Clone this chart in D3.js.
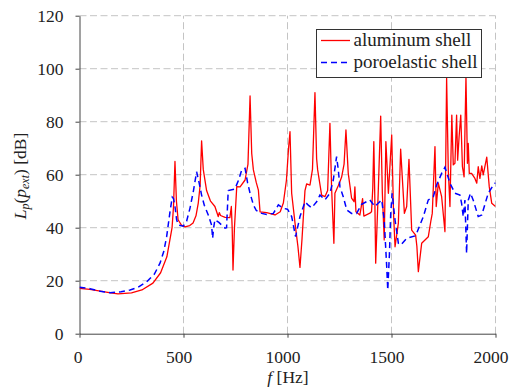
<!DOCTYPE html>
<html>
<head>
<meta charset="utf-8">
<script src="https://cdn.jsdelivr.net/npm/d3@7"></script>
<style>
  body { margin: 0; background: #fff; }
  svg text { font-family: "Liberation Serif", "DejaVu Serif", serif; fill: #222; }
</style>
</head>
<body>
<svg id="chart"></svg>
<script>
var width = 509,
    height = 391;

// aluminum shell (red)
var alu_f = [0, 50, 100, 150, 185, 250, 300, 353, 390, 420, 445, 452, 459, 466, 474, 490, 507, 530, 546, 560, 571, 580, 587, 595, 611, 630, 651, 667, 672, 678, 700, 723, 730, 734, 738, 745, 756, 772, 796, 810, 820, 828, 836, 850, 860, 868, 900, 940, 965, 980, 995, 1005, 1012, 1020, 1036, 1050, 1060, 1070, 1084, 1092, 1108, 1120, 1132, 1140, 1145, 1164, 1180, 1193, 1204, 1212, 1223, 1228, 1245, 1260, 1272, 1281, 1292, 1308, 1320, 1324, 1329, 1348, 1361, 1367, 1396, 1404, 1410, 1415, 1420, 1424, 1436, 1448, 1456, 1465, 1473, 1485, 1501, 1510, 1517, 1533, 1544, 1562, 1573, 1584, 1597, 1616, 1622, 1629, 1645, 1677, 1690, 1696, 1709, 1715, 1725, 1741, 1757, 1765, 1773, 1781, 1790, 1797, 1805, 1813, 1818, 1825, 1833, 1841, 1849, 1858, 1865, 1869, 1874, 1885, 1901, 1910, 1917, 1925, 1934, 1941, 1958, 1970, 1982, 2000];
var alu_L = [17.1, 16.7, 16.1, 15.4, 15.0, 15.4, 16.5, 19.1, 23, 29, 40, 48, 65, 50, 43, 41, 40.3, 40.8, 41.8, 44.5, 49.3, 56, 72.8, 62, 54, 50, 48, 44.2, 45.7, 44.6, 43.9, 43.8, 48, 40, 24, 40, 55.5, 55.4, 58, 64, 89.7, 68, 61.8, 57, 54.2, 46, 45.7, 44.8, 46, 49.3, 58, 70, 76.2, 53, 41.8, 33, 25, 36, 54, 56.5, 56.1, 62, 91, 66, 61.8, 52.3, 51.7, 54, 79.4, 55, 34.1, 53, 56, 59, 64, 76.9, 60.6, 51.2, 49.8, 55.4, 46, 44.8, 51, 44.4, 45.5, 46, 55, 72.5, 50, 26.6, 53, 82.1, 53, 35.4, 72.5, 53, 75, 45, 32.8, 41.7, 69.6, 45.4, 48, 65.8, 39.1, 37.2, 33, 23.4, 34.1, 36.6, 42.9, 45.4, 70.6, 48, 56.8, 51.7, 38.5, 96.4, 61.8, 48, 82.5, 63.7, 64.3, 82.5, 65.5, 74.3, 82.5, 63, 59.2, 97, 64.3, 71.8, 60.5, 60.5, 58.6, 56.8, 63, 58.6, 63.3, 59.9, 66.6, 55.5, 49.2, 48];

// poroelastic shell (blue, dashed)
var poro_f = [0, 50, 100, 147, 200, 243, 280, 323, 360, 387, 405, 419, 435, 446, 452, 459, 467, 475, 499, 515, 531, 548, 563, 575, 587, 600, 619, 635, 640, 645, 651, 670, 700, 707, 715, 747, 765, 780, 796, 808, 820, 836, 850, 876, 900, 932, 956, 980, 1000, 1020, 1039, 1060, 1084, 1100, 1116, 1140, 1156, 1180, 1204, 1220, 1236, 1244, 1252, 1268, 1285, 1308, 1332, 1356, 1396, 1420, 1436, 1453, 1465, 1477, 1482, 1490, 1496, 1503, 1517, 1533, 1545, 1573, 1613, 1621, 1653, 1677, 1701, 1717, 1741, 1757, 1781, 1805, 1829, 1837, 1845, 1853, 1861, 1869, 1880, 1893, 1917, 1934, 1965, 1985, 2000];
var poro_L = [17.5, 17, 16, 15.5, 15.8, 16.5, 17.5, 19.6, 22.5, 26.6, 31, 36.6, 46, 51.5, 51, 48, 43, 41, 40.6, 42.5, 47.3, 54, 61.1, 57, 52.3, 48.5, 44.8, 41, 36, 40, 43, 42, 39.8, 40, 54, 54.6, 58, 61.8, 62.4, 57, 53, 48.6, 46.5, 45.4, 45, 45.4, 48.6, 47.3, 47, 44.2, 36.6, 44.2, 49.8, 48.5, 47.5, 49.8, 52.3, 50.5, 53, 58, 66.8, 62, 55.5, 51.7, 46.7, 45.4, 45.4, 48.8, 50.5, 48, 49.2, 50.5, 42.9, 25.3, 16.5, 30, 45, 53, 42.9, 34.1, 33.5, 36, 36.9, 37.9, 44.2, 50.5, 51.7, 56.1, 60.5, 62.8, 56.8, 53, 52.3, 49.2, 44.2, 50.4, 30.3, 50.4, 53, 50.4, 44.2, 44.8, 53, 55.5, 57];

var x_ticks = [0, 500, 1000, 1500, 2000];
var y_ticks = [0, 20, 40, 60, 80, 100, 120];
var series_names = ["aluminum shell", "poroelastic shell"];

var svg = d3.select("#chart")
    .attr("width", width)
    .attr("height", height);

var x = d3.scaleLinear().domain([0, 2000]).range([79.5, 495.5]);
var y = d3.scaleLinear().domain([0, 120]).range([333.7, 15.7]);

// grid
var grid = svg.append("g")
    .style("stroke", "#c4c4c4")
    .style("stroke-width", 1)
    .style("stroke-dasharray", "7,3.5");

grid.selectAll(".vg")
    .data(x_ticks.slice(1))
    .enter().append("line")
    .attr("x1", function(d) { return x(d); })
    .attr("x2", function(d) { return x(d); })
    .attr("y1", y(0))
    .attr("y2", y(120));

grid.selectAll(".hg")
    .data(y_ticks.slice(1))
    .enter().append("line")
    .attr("x1", x(0))
    .attr("x2", x(2000))
    .attr("y1", function(d) { return y(d); })
    .attr("y2", function(d) { return y(d); });

// axes
var xAxis = svg.append("g")
    .attr("transform", "translate(0," + y(0) + ")")
    .call(d3.axisBottom(x).tickValues(x_ticks).tickFormat(d3.format("d"))
        .tickSize(4).tickSizeOuter(0).tickPadding(13));

var yAxis = svg.append("g")
    .attr("transform", "translate(" + x(0) + ",0)")
    .call(d3.axisLeft(y).tickValues(y_ticks).tickFormat(d3.format("d"))
        .tickSize(4).tickSizeOuter(0).tickPadding(12));

svg.selectAll(".domain, .tick line")
    .style("stroke", "#444")
    .style("stroke-width", 1);

svg.selectAll(".tick text")
    .attr("font-family", null)
    .style("font-size", "17.5px")
    .style("fill", "#222");

xAxis.attr("font-family", null);
yAxis.attr("font-family", null);

xAxis.selectAll(".tick text")
    .attr("dx", function(d) { return d == 0 ? -2 : -5; });

// curves
svg.append("clipPath").attr("id", "clip")
    .append("rect")
    .attr("x", x(0)).attr("y", y(120))
    .attr("width", x(2000) - x(0)).attr("height", y(0) - y(120));

var line = d3.line()
    .x(function(d) { return x(d[0]); })
    .y(function(d) { return y(d[1]); });

var curves = svg.append("g").attr("clip-path", "url(#clip)");

curves.append("path")
    .datum(d3.zip(alu_f, alu_L))
    .attr("d", line)
    .style("fill", "none")
    .style("stroke", "#ff0000")
    .style("stroke-width", 1.3)
    .style("stroke-linejoin", "round");

curves.append("path")
    .datum(d3.zip(poro_f, poro_L))
    .attr("d", line)
    .style("fill", "none")
    .style("stroke", "#0000ff")
    .style("stroke-width", 1.5)
    .style("stroke-dasharray", "6,4");

// legend
var legend = svg.append("g");

legend.append("rect")
    .attr("x", 316.5).attr("y", 29.5)
    .attr("width", 165).attr("height", 48)
    .style("fill", "#fff")
    .style("stroke", "#333")
    .style("stroke-width", 1);

var leg_styles = [
    { color: "#ff0000", dash: null, w: 1.3 },
    { color: "#0000ff", dash: "6,4", w: 1.5 }
];

series_names.forEach(function(name, i) {
    var ly = 40.5 + i * 22;
    legend.append("line")
        .attr("x1", 321).attr("x2", 350)
        .attr("y1", ly).attr("y2", ly)
        .style("stroke", leg_styles[i].color)
        .style("stroke-width", leg_styles[i].w)
        .style("stroke-dasharray", leg_styles[i].dash);
    legend.append("text")
        .attr("x", 353.5)
        .attr("y", ly + 5.5)
        .style("font-size", "19px")
        .text(name);
});

// axis labels
var xl = svg.append("text")
    .attr("x", 288)
    .attr("y", 383)
    .attr("text-anchor", "middle")
    .style("font-size", "17.5px");
xl.append("tspan").style("font-style", "italic").text("f");
xl.append("tspan").text(" [Hz]");

var yl = svg.append("text")
    .attr("transform", "translate(26,176) rotate(-90)")
    .attr("text-anchor", "middle")
    .style("font-size", "17.5px");
yl.append("tspan").style("font-style", "italic").text("L");
yl.append("tspan").style("font-style", "italic").style("font-size", "12px").attr("dy", 3).text("p");
yl.append("tspan").attr("dy", -3).text("(");
yl.append("tspan").style("font-style", "italic").text("p");
yl.append("tspan").style("font-style", "italic").style("font-size", "12px").attr("dy", 3).text("ext");
yl.append("tspan").attr("dy", -3).text(")  [dB]");
</script>
</body>
</html>
